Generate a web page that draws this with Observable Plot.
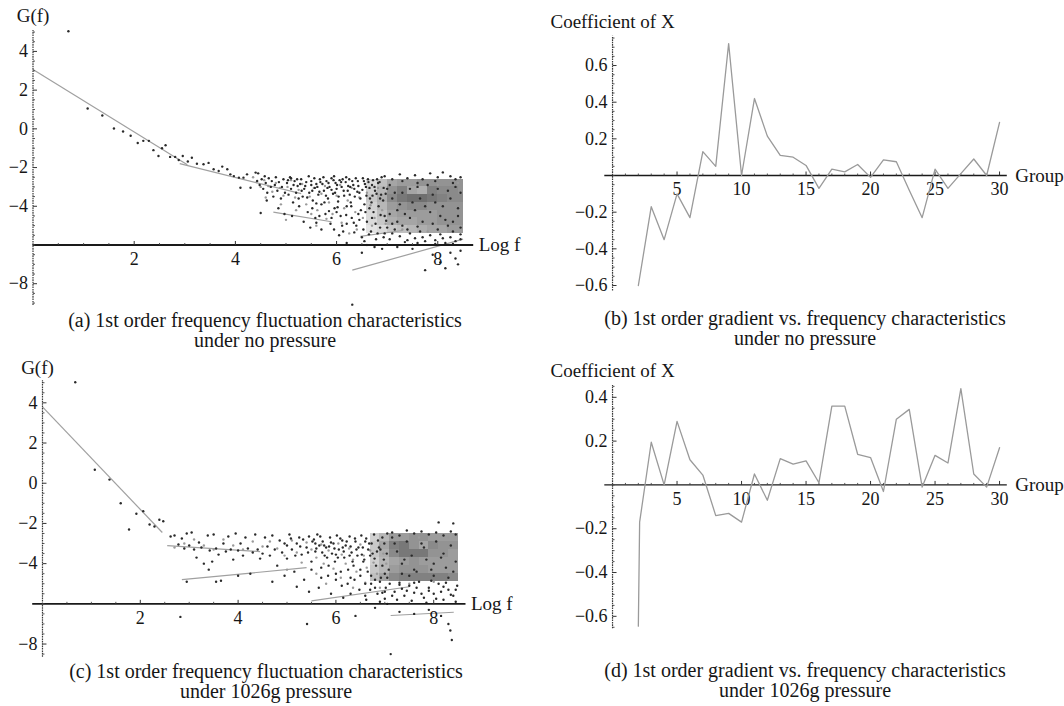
<!DOCTYPE html>
<html><head><meta charset="utf-8">
<script src="https://cdn.jsdelivr.net/npm/d3@7"></script>
<script src="https://cdn.jsdelivr.net/npm/@observablehq/plot@0.6"></script>
<style>
body{margin:0;background:#fff;}
#wrap{position:relative;width:1064px;height:706px;background:#fff;font-family:"Liberation Serif","Times New Roman",serif;color:#1a1a1a;overflow:hidden}
.panel{position:absolute}
.cap{position:absolute;text-align:center;font-size:20px;line-height:20px;white-space:nowrap;transform:translateX(-50%);color:#161616}
</style></head><body><div id="wrap"></div>
<script>
// ---------- Panel (a): 1st order frequency fluctuation, no pressure ----------
const aPoints = [
 [0.7,5.04],[1.08,1.05],[1.37,0.69],[1.6,0.02],[1.78,-0.14],[1.93,-0.36],[2.07,-0.73],[2.18,-0.62],[2.29,-0.62],
 [2.38,-1.1],[2.48,-1.4],[2.55,-1.0],[2.62,-0.85],[2.71,-1.45],[2.81,-1.45],[2.88,-1.61],[2.96,-1.4],[3.06,-1.69],
 [3.14,-1.49],[3.24,-1.8],[3.37,-1.83],[3.47,-1.76],[3.57,-2.09],[3.67,-2.18],[3.74,-1.95],[3.84,-2.09],[3.9,-2.35],
 [3.97,-2.44],[4.07,-2.52],[4.16,-2.52],[4.1,-3.04],[4.23,-2.35],[4.3,-3.04],[4.4,-2.26],[4.43,-2.69],
 [4.45,-2.3],[4.48,-2.9],[4.52,-2.6],[4.55,-3.1],[4.58,-2.45],[4.6,-2.8],[4.63,-3.3],[4.66,-2.55],[4.7,-3.0],[4.72,-2.7],
 [4.75,-3.5],[4.78,-2.9],[4.8,-2.5],[4.83,-3.2],[4.86,-2.75],[4.9,-3.6],[4.92,-3.0],[4.95,-2.6],[4.98,-3.3],[4.5,-4.35],
 [4.62,-3.7],[4.85,-4.1],[4.97,-4.4],
 [5.02,-2.8],[5.05,-3.4],[5.08,-2.5],[5.1,-3.1],[5.14,-3.8],[5.17,-2.7],[5.2,-3.3],[5.23,-2.95],[5.26,-4.0],[5.3,-2.6],
 [5.33,-3.5],[5.36,-3.1],[5.4,-2.75],[5.43,-4.3],[5.46,-3.3],[5.5,-2.9],[5.53,-3.7],[5.56,-2.55],[5.58,-4.6],[5.12,-4.5],
 [5.35,-4.8],[5.48,-5.1],[5.25,-3.6],[5.45,-2.45],
 [5.62,-3.0],[5.64,-3.4],[5.67,-2.6],[5.7,-3.9],[5.72,-2.85],[5.75,-3.2],[5.78,-4.4],[5.8,-2.7],[5.83,-3.6],[5.86,-3.0],
 [5.88,-4.9],[5.9,-2.55],[5.93,-3.35],[5.96,-4.1],[5.98,-2.8],[6.0,-3.1],[6.03,-3.75],[6.06,-2.65],[6.08,-4.5],[6.1,-3.0],
 [6.13,-5.3],[6.15,-3.45],[6.18,-2.75],[6.2,-4.0],[5.7,-5.2],[6.05,-5.5],[5.95,-2.45],
 [6.22,-3.2],[6.25,-2.6],[6.28,-3.8],[6.3,-4.6],[6.33,-2.9],[6.36,-3.5],[6.39,-5.0],[6.42,-2.7],[6.45,-3.3],[6.48,-4.2],
 [6.5,-5.6],[6.52,-2.55],[6.55,-3.9],[6.58,-3.0],[6.6,-4.8],[6.63,-2.75],[6.66,-3.6],[6.68,-5.3],[6.7,-2.9],[6.73,-4.3],
 [6.76,-3.2],[6.78,-5.7],[6.8,-2.6],[6.83,-4.0],[6.86,-5.1],[6.88,-3.4],[6.5,-6.4],[6.9,-6.2],
 [5.04,-2.65],[5.15,-2.9],[5.22,-2.6],[5.31,-3.2],[5.38,-2.95],[5.42,-3.55],[5.5,-2.7],[5.57,-3.05],[5.6,-2.85],[5.66,-3.25],
 [5.74,-2.5],[5.79,-3.45],[5.84,-2.8],[5.9,-3.15],[5.94,-2.65],[6.01,-2.9],[6.04,-3.5],[6.09,-2.75],[6.14,-3.2],[6.19,-2.5],
 [6.23,-2.95],[6.26,-3.4],[6.31,-2.7],[6.35,-3.1],[6.38,-2.55],[6.43,-2.95],[6.47,-3.6],[6.51,-3.15],[6.54,-2.7],[6.59,-3.45],
 [6.62,-2.6],[6.65,-3.05],[6.69,-3.8],[6.72,-2.65],[6.75,-3.0],[6.79,-3.35],[6.82,-2.8],[6.86,-3.6],[6.89,-2.5],[6.93,-3.05],
 [6.97,-3.35],
 [5.52,-4.1],[5.66,-4.5],[5.76,-3.8],[5.9,-4.6],[6.02,-4.05],[6.11,-5.0],[6.19,-4.45],[6.29,-4.0],[6.34,-4.85],[6.43,-4.4],
 [6.53,-5.2],[6.57,-4.3],[6.64,-5.45],[6.7,-4.6],[6.77,-4.9],[6.81,-5.4],[6.87,-4.45],[6.93,-5.6],[6.98,-4.75],[6.55,-5.8],
 [6.75,-6.1],[6.2,-5.9],[5.95,-5.2],[5.6,-4.85],
 [6.95,-2.45],[7.1,-2.6],[7.25,-2.35],[7.4,-2.55],[7.55,-2.4],[7.7,-2.6],[7.85,-2.3],[8.0,-2.5],[8.1,-2.25],[8.25,-2.45],
 [8.35,-2.6],[8.45,-2.5],[7.3,-2.7],[7.95,-2.7],
 [6.95,-5.4],[7.05,-5.7],[7.15,-5.2],[7.25,-5.55],[7.35,-5.85],[7.45,-5.4],[7.55,-5.65],[7.65,-5.3],[7.75,-5.8],[7.85,-5.5],
 [7.95,-5.75],[8.05,-5.45],[8.15,-5.9],[8.25,-5.6],[8.35,-5.8],[8.45,-5.7],[7.1,-4.9],[7.3,-5.0],[7.6,-5.05],[8.0,-5.2],[8.3,-5.3],
 [7.0,-3.1],[7.1,-3.6],[7.2,-4.2],[7.3,-3.3],[7.45,-4.6],[7.6,-3.0],[7.75,-4.0],[7.9,-3.4],[8.05,-4.5],[8.2,-3.2],[8.4,-4.1],
 [7.05,-4.4],[7.5,-3.8],[8.3,-4.8],
 [7.05,-2.9],[7.15,-3.3],[7.25,-3.9],[7.35,-4.4],[7.45,-3.1],[7.55,-4.2],[7.65,-3.6],[7.7,-4.8],[7.8,-2.9],[7.85,-4.3],
 [7.95,-3.8],[8.0,-3.1],[8.1,-4.0],[8.15,-4.7],[8.25,-3.6],[8.35,-3.0],[8.4,-4.5],[8.45,-3.3],[7.2,-4.8],[7.4,-5.2],
 [7.9,-4.9],[8.2,-5.0],[8.45,-5.1],[7.6,-2.8],[8.3,-2.8],
 [5.1,-2.55],[5.28,-2.85],[5.52,-3.2],[5.68,-2.75],[5.82,-3.05],[5.97,-3.3],[6.12,-2.6],[6.27,-3.0],[6.41,-3.25],[6.56,-2.85],
 [6.71,-3.45],[6.85,-2.75],[6.92,-3.7],[6.95,-4.5],[7.0,-5.1],[6.65,-4.1],[6.45,-4.7],[6.35,-5.35],[6.2,-4.9],[6.0,-4.3],
 [5.85,-4.25],[5.6,-3.85],[7.1,-5.4],[7.4,-5.75],[7.7,-5.6],[8.1,-5.65],[8.45,-5.45],[8.3,-5.95],[7.95,-5.95],[7.6,-5.9],
 [7.2,-6.1],[7.5,-6.2],[7.9,-6.5],[8.05,-6.9],[8.15,-7.2],[8.25,-6.4],[8.35,-6.7],[8.45,-6.3],[7.75,-7.3],[8.4,-7.0],
 [6.31,-9.08]
];
const aLightPoints = [
 [4.35,-2.5],[4.42,-2.75],[4.5,-3.0],[4.57,-2.65],[4.65,-2.95],[4.73,-3.25],[4.8,-2.8],[4.88,-3.05],[4.95,-3.45],[5.03,-3.0],
 [5.1,-2.65],[5.18,-3.55],[5.25,-3.15],[5.32,-2.85],[5.4,-3.9],[5.47,-3.5],[5.55,-3.05],[5.62,-4.2],[5.7,-3.35],[5.77,-2.95],
 [5.85,-3.8],[5.92,-4.4],[6.0,-3.45],[6.07,-2.9],[6.15,-4.1],[6.22,-3.7],[6.3,-3.05],[6.37,-4.3],[6.45,-3.55],[6.52,-4.6],
 [6.6,-3.3],[6.67,-3.95],[6.75,-4.6],[6.82,-3.05],[6.9,-4.2],[6.97,-4.9],[4.6,-3.55],[4.9,-3.9],[5.2,-4.2],[5.5,-4.4],
 [5.8,-4.65],[6.1,-4.85],[6.4,-5.2],[6.7,-5.0],[5.0,-4.7],[5.6,-5.0],[6.25,-5.4],[6.6,-6.0],[7.3,-5.2],[7.8,-5.3],
 [8.2,-5.1],[7.5,-2.9],[8.0,-2.9],[8.4,-2.8]
];
const aFitLines = [[0,3.07,3.05,-1.85],[2.9,-1.8,5.3,-3.35],[4.75,-4.3,5.9,-4.8],[6.47,-5.55,7.3,-5.25],[6.31,-7.3,8.5,-5.7]];
const aDensityX = [6.6,6.8,7.0,7.2,7.4,7.6,7.8,8.0,8.2,8.4,8.5];
const aDensityY = [-2.6,-3.0,-3.4,-3.8,-4.2,-4.6,-5.0,-5.4];
const aDensity = [
 [0.1,0.25,0.4,0.45,0.45,0.5,0.5,0.5,0.5,0.5],
 [0.15,0.3,0.5,0.6,0.4,0.35,0.6,0.55,0.55,0.5],
 [0.2,0.35,0.55,0.65,0.7,0.7,0.65,0.6,0.55,0.55],
 [0.15,0.3,0.45,0.5,0.55,0.55,0.5,0.5,0.5,0.5],
 [0.1,0.25,0.4,0.45,0.45,0.45,0.45,0.5,0.5,0.5],
 [0.1,0.2,0.35,0.4,0.4,0.45,0.45,0.5,0.5,0.5],
 [0.05,0.1,0.2,0.25,0.3,0.35,0.4,0.4,0.45,0.45]
];

// ---------- Panel (c): 1st order frequency fluctuation, 1026g ----------
const cPoints = [
 [0.67,5.02],[1.07,0.67],[1.37,0.18],[1.6,-1.0],[1.77,-2.3],[1.92,-1.52],[2.06,-1.39],[2.19,-2.05],[2.29,-2.15],[2.39,-1.82],[2.47,-1.89],
 [2.62,-2.65],[2.7,-2.6],[2.78,-3.05],[2.85,-2.75],[2.9,-3.25],[2.95,-2.5],[3.0,-3.1],[3.05,-2.45],[3.1,-3.3],[3.15,-3.7],
 [3.2,-2.95],[3.25,-3.2],[3.3,-4.0],[3.38,-2.6],[3.42,-3.35],[3.47,-3.9],[3.5,-2.55],[3.55,-3.25],[3.6,-3.55],[3.65,-4.85],
 [3.7,-3.0],[3.75,-3.4],[3.8,-2.65],[3.85,-3.3],[3.9,-3.8],[3.95,-2.5],[4.0,-3.35],[4.05,-3.0],[4.1,-3.6],[4.15,-2.7],
 [4.2,-3.25],[4.25,-4.5],[4.3,-3.45],[4.35,-2.55],[4.4,-3.3],[4.45,-3.75],[4.5,-3.5],[2.95,-4.9],[3.4,-4.3],[3.55,-4.9],
 [4.0,-4.6],[2.82,-6.65],
 [4.55,-2.7],[4.6,-3.15],[4.65,-3.6],[4.7,-2.6],[4.75,-3.3],[4.8,-4.1],[4.85,-2.85],[4.9,-3.45],[4.95,-3.0],[5.0,-3.75],
 [5.05,-2.55],[5.1,-3.3],[5.15,-4.4],[5.2,-3.0],[5.25,-2.7],[5.3,-3.55],[5.35,-4.8],[5.4,-3.2],[5.45,-2.65],[5.5,-3.9],
 [4.7,-4.9],[4.95,-4.6],[5.2,-5.15],[5.45,-5.4],[5.41,-7.0],
 [5.55,-2.8],[5.58,-3.4],[5.62,-2.55],[5.66,-3.1],[5.7,-4.2],[5.73,-2.9],[5.77,-3.6],[5.8,-3.2],[5.84,-4.6],[5.88,-2.7],
 [5.92,-3.5],[5.95,-3.0],[5.98,-3.9],[6.02,-2.6],[6.06,-3.3],[6.1,-4.4],[6.13,-2.85],[6.17,-3.7],[6.2,-3.1],[6.24,-5.0],
 [6.28,-2.65],[6.32,-3.45],[6.36,-4.1],[6.4,-2.9],[6.44,-3.6],[6.48,-5.3],[5.65,-5.2],[5.9,-5.5],[6.15,-5.7],[6.4,-6.6],
 [6.0,-4.8],[6.3,-4.7],
 [5.0,-3.1],[5.08,-2.75],[5.17,-3.6],[5.27,-3.15],[5.33,-2.8],[5.43,-3.45],[5.52,-2.9],[5.6,-3.25],[5.68,-2.65],[5.76,-3.1],
 [5.82,-3.7],[5.9,-2.95],[5.97,-3.25],[6.04,-3.7],[6.09,-2.75],[6.16,-3.4],[6.22,-2.9],[6.3,-3.15],[6.34,-3.9],[6.39,-2.75],
 [6.46,-3.2],[6.53,-3.55],[6.6,-2.9],[6.66,-3.3],[6.73,-3.0],[6.79,-3.75],[6.86,-2.85],[6.91,-3.3],[6.99,-3.0],[7.04,-3.5],
 [5.5,-4.3],[5.7,-4.7],[5.85,-4.1],[6.0,-4.5],[6.12,-5.1],[6.25,-4.3],[6.38,-4.8],[6.5,-4.3],[6.6,-5.0],[6.72,-4.6],
 [6.8,-5.2],[6.9,-4.9],[7.0,-5.4],[6.62,-5.8],[6.3,-5.5],[6.8,-6.2],[7.05,-6.0],[7.0,-4.5],
 [6.52,-2.6],[6.55,-3.2],[6.58,-3.8],[6.62,-2.75],[6.65,-4.4],[6.68,-3.0],[6.72,-5.0],[6.75,-3.5],[6.78,-2.55],[6.82,-4.1],
 [6.85,-5.5],[6.88,-3.2],[6.92,-4.7],[6.95,-2.7],[6.98,-3.8],[7.02,-5.2],[7.05,-2.5],[7.08,-4.3],[6.6,-5.6],[6.9,-5.9],
 [7.15,-2.45],[7.3,-2.6],[7.45,-2.35],[7.6,-2.5],[7.75,-2.4],[7.9,-2.55],[8.05,-2.45],[8.2,-2.6],[8.35,-2.4],[8.45,-2.55],
 [8.1,-1.95],[8.4,-2.0],
 [7.1,-5.0],[7.2,-5.4],[7.3,-4.95],[7.4,-5.6],[7.5,-5.1],[7.6,-5.45],[7.7,-4.9],[7.8,-5.7],[7.9,-5.2],[8.0,-5.5],[8.1,-5.0],
 [8.2,-5.8],[8.3,-5.3],[8.4,-5.6],[8.48,-5.1],[7.25,-5.8],[7.55,-5.85],[7.85,-5.95],[8.15,-5.4],[8.45,-5.9],[7.35,-5.25],
 [7.65,-5.2],[7.95,-4.85],[8.25,-4.95],
 [7.2,-3.0],[7.4,-3.8],[7.6,-4.3],[7.8,-3.2],[8.0,-4.0],[8.2,-3.5],[8.4,-4.4],[7.35,-4.5],
 [7.15,-2.7],[7.25,-3.4],[7.35,-4.0],[7.45,-2.9],[7.55,-3.6],[7.65,-4.4],[7.75,-3.0],[7.85,-3.8],[7.95,-4.3],[8.05,-2.9],
 [8.15,-3.7],[8.25,-4.2],[8.35,-3.1],[8.45,-3.9],[7.5,-4.6],[8.0,-4.6],[8.3,-4.7],
 [5.58,-3.0],[5.72,-3.45],[5.86,-3.15],[6.0,-3.55],[6.14,-3.2],[6.28,-3.6],[6.42,-3.3],[6.56,-3.9],[6.7,-3.6],[6.84,-3.4],
 [6.95,-4.1],[7.05,-4.7],[6.8,-4.8],[6.5,-4.6],[6.95,-5.45],[6.7,-5.3],[7.15,-5.6],[7.45,-5.35],[7.75,-5.5],[8.05,-5.75],
 [8.35,-5.55],[8.45,-5.3],[7.0,-5.75],[7.3,-5.05],[7.6,-4.95],[7.9,-5.35],[8.2,-5.15],
 [7.3,-6.4],[7.6,-6.5],[7.9,-6.3],[8.15,-6.6],[8.3,-7.0],[8.34,-7.33],[8.37,-7.8],[7.12,-8.5]
];
const cLightPoints = [
 [2.7,-3.2],[2.9,-3.0],[3.1,-2.8],[3.3,-3.1],[3.5,-3.3],[3.7,-2.8],[3.9,-3.1],[4.1,-3.3],[4.3,-2.9],[4.5,-3.15],
 [4.65,-2.9],[4.8,-3.25],[4.95,-3.6],[5.1,-2.85],[5.2,-3.45],[5.3,-3.95],[5.4,-2.95],[5.5,-3.3],[5.6,-3.7],[5.7,-3.05],
 [5.75,-4.0],[5.85,-3.35],[5.95,-4.25],[6.05,-3.0],[6.12,-3.55],[6.2,-4.0],[6.27,-3.25],[6.35,-3.8],[6.42,-4.4],[6.5,-3.05],
 [6.57,-3.6],[6.63,-4.2],[6.7,-3.35],[6.77,-3.95],[6.84,-4.5],[6.9,-3.1],[6.97,-3.5],[7.03,-4.0],[5.0,-4.3],[5.6,-4.5],
 [6.1,-4.7],[6.6,-4.95],[6.9,-5.2],[5.8,-5.0],[6.35,-5.2],[7.5,-5.0],[8.0,-4.9],[8.3,-2.7],[7.7,-2.7]
];
const cFitLines = [[0,3.8,2.45,-2.45],[2.55,-3.1,4.45,-3.4],[2.85,-4.8,5.4,-4.2],[5.5,-5.85,7.5,-5.15],[7.12,-6.58,8.41,-6.42]];
const cDensityX = [6.7,6.9,7.1,7.3,7.5,7.7,7.9,8.1,8.3,8.5];
const cDensityY = [-2.5,-2.9,-3.3,-3.7,-4.1,-4.5,-4.9];
const cDensity = [
 [0.15,0.3,0.45,0.45,0.5,0.5,0.45,0.45,0.45],
 [0.2,0.4,0.6,0.65,0.5,0.4,0.55,0.5,0.5],
 [0.2,0.35,0.55,0.65,0.65,0.65,0.5,0.5,0.45],
 [0.15,0.3,0.4,0.45,0.5,0.45,0.45,0.45,0.45],
 [0.2,0.3,0.45,0.5,0.5,0.5,0.45,0.45,0.45],
 [0.25,0.4,0.55,0.6,0.6,0.6,0.6,0.6,0.55]
];

// ---------- Panels (b) and (d): coefficient of X vs group ----------
const bGroups = [2,3,4,5,6,7,8,9,10,11,12,13,14,15,16,17,18,19,20,21,22,23,24,25,26,27,28,29,30];
const bCoef =   [-0.6,-0.17,-0.35,-0.10,-0.23,0.13,0.05,0.72,0.0,0.42,0.215,0.11,0.10,0.055,-0.07,0.035,0.02,0.06,-0.01,0.085,0.075,-0.08,-0.23,0.035,-0.07,0.01,0.09,0.0,0.29];
const dGroups = [2,2.1,3,4,5,6,7,8,9,10,11,12,13,14,15,16,17,18,19,20,21,22,23,24,25,26,27,28,29,30];
const dCoef =   [-0.645,-0.17,0.195,0.0,0.29,0.115,0.045,-0.14,-0.13,-0.17,0.05,-0.07,0.12,0.095,0.11,0.01,0.36,0.36,0.14,0.125,-0.03,0.30,0.345,-0.01,0.135,0.10,0.44,0.05,-0.01,0.17];

// tick labels
const gfXTicks = [2,4,6,8];
const gfYTicks = [-8,-4,-2,0,2,4];
const grpXTicks = [5,10,15,20,25,30];
const bYTicks = [-0.6,-0.4,-0.2,0.2,0.4,0.6];
const dYTicks = [-0.6,-0.4,-0.2,0.2,0.4];

const captions = [
 ["(a) 1st order frequency fluctuation characteristics","under no pressure"],
 ["(b) 1st order gradient vs. frequency characteristics","under no pressure"],
 ["(c) 1st order frequency fluctuation characteristics","under 1026g pressure"],
 ["(d) 1st order gradient vs. frequency characteristics","under 1026g pressure"]
];

// ---------- helpers ----------
const FONT = "'Liberation Serif','Times New Roman',serif";
const fmt = d => String(d).replace("-", "\u2212");
const shade = d3.interpolateRgb("#ececec", "#3a3a3a");

function axisMarks(o){
  const inY = v => v >= o.yMin && v <= o.yMax;
  const xMinor = o.xMinor.filter(v => !o.xLabels.includes(v));
  const yMinor = o.yMinor.filter(v => inY(v) && !o.yLabels.some(t => Math.abs(t - v) < 1e-9));
  return [
    Plot.ruleY([o.axisY], {x1: o.xMin, x2: o.xMax, stroke: "#1a1a1a", strokeWidth: o.xw}),
    Plot.ruleX([0], {y1: o.yMin, y2: o.yMax, stroke: "#3a3a3a", strokeWidth: 1.2, strokeDasharray: "1.6,0.8"}),
    Plot.link(xMinor, {x1: d => d, x2: d => d, y1: () => o.axisY, y2: () => o.axisY + 2 * o.ky, stroke: "#444", strokeWidth: 0.9}),
    Plot.link(o.xLabels, {x1: d => d, x2: d => d, y1: () => o.axisY, y2: () => o.axisY + 4 * o.ky, stroke: "#333", strokeWidth: 1}),
    Plot.link(yMinor, {x1: () => 0, x2: () => 2 * o.kx, y1: d => d, y2: d => d, stroke: "#444", strokeWidth: 0.9}),
    Plot.link(o.yLabels, {x1: () => 0, x2: () => 4 * o.kx, y1: d => d, y2: d => d, stroke: "#333", strokeWidth: 1}),
    Plot.text(o.xLabels, {x: d => d, y: () => o.axisY, text: fmt, dy: 14, fontSize: o.fs}),
    Plot.text(o.yLabels, {x: () => 0, y: d => d, text: fmt, dx: -5, textAnchor: "end", fontSize: o.fs}),
    Plot.text([o.yTitle], {x: () => 0, y: () => o.yMax, text: d => d, dy: o.yTitleDy, dx: o.yTitleDx || 0, fontSize: o.titleFs}),
    Plot.text([o.xTitle], {x: () => o.xMax, y: () => o.axisY, text: d => d, dx: o.xTitleDx, textAnchor: "start", fontSize: o.titleFs})
  ];
}

function cellsFrom(xs, ys, m){
  const out = [];
  m.forEach((row, j) => row.forEach((s, i) => out.push({x1: xs[i], x2: xs[i+1], y1: ys[j], y2: ys[j+1], s})));
  return out;
}

function units(cfg){
  const kx = (cfg.xDom[1] - cfg.xDom[0]) / (cfg.width - cfg.ml - cfg.mr);
  const ky = (cfg.yDom[1] - cfg.yDom[0]) / (cfg.height - cfg.mt - cfg.mb);
  return {kx, ky};
}

function scatterPanel(cfg){
  const cells = cellsFrom(cfg.dx, cfg.dy, cfg.dm);
  const {kx, ky} = units(cfg);
  return Plot.plot({
    width: cfg.width, height: cfg.height,
    marginLeft: cfg.ml, marginRight: cfg.mr, marginTop: cfg.mt, marginBottom: cfg.mb,
    x: {domain: cfg.xDom, axis: null},
    y: {domain: cfg.yDom, axis: null},
    style: {fontFamily: FONT, fontSize: "18px", color: "#161616", background: "transparent", overflow: "visible"},
    marks: [
      Plot.rect(cells, {x1: "x1", x2: "x2", y1: "y1", y2: "y2", fill: d => shade(d.s), shapeRendering: "crispEdges"}),
      Plot.link(cfg.lines, {x1: d => d[0], y1: d => d[1], x2: d => d[2], y2: d => d[3], stroke: "#a0a0a0", strokeWidth: 1.2}),
      Plot.dot(cfg.light, {x: d => d[0], y: d => d[1], r: 1.2, fill: "#9a9a9a"}),
      Plot.dot(cfg.points, {x: d => d[0], y: d => d[1], r: 1.2, fill: "#2a2a2a"}),
      ...axisMarks({
        axisY: -6, xMin: cfg.xDom[0], xMax: cfg.xDom[1], yMin: cfg.yDom[0], yMax: cfg.yDom[1], xw: 1.8, kx, ky,
        xMinor: d3.range(1, 17).map(v => v / 2), yMinor: d3.range(-18, 11).map(v => v / 2),
        xLabels: gfXTicks, yLabels: gfYTicks, fs: 18, titleFs: 19,
        yTitle: "G(f)", yTitleDy: cfg.titleDy, yTitleDx: cfg.titleDx, xTitle: "Log f", xTitleDx: 5
      })
    ]
  });
}

function coefPanel(cfg){
  const {kx, ky} = units(cfg);
  return Plot.plot({
    width: cfg.width, height: cfg.height,
    marginLeft: cfg.ml, marginRight: cfg.mr, marginTop: cfg.mt, marginBottom: cfg.mb,
    x: {domain: cfg.xDom, axis: null},
    y: {domain: cfg.yDom, axis: null},
    style: {fontFamily: FONT, fontSize: "18px", color: "#161616", background: "transparent", overflow: "visible"},
    marks: [
      ...axisMarks({
        axisY: 0, xMin: cfg.xDom[0], xMax: cfg.xDom[1], yMin: cfg.yDom[0], yMax: cfg.yDom[1], xw: 1.4, kx, ky,
        xMinor: d3.range(1, 31), yMinor: d3.range(-13, 16).map(v => v / 20),
        xLabels: grpXTicks, yLabels: cfg.yTicks, fs: 18, titleFs: 19,
        yTitle: "Coefficient of X", yTitleDy: cfg.titleDy, xTitle: "Group", xTitleDx: 8
      }),
      Plot.line(cfg.groups.map((g, i) => [g, cfg.coef[i]]), {x: d => d[0], y: d => d[1], stroke: "#9a9a9a", strokeWidth: 1.3})
    ]
  });
}

const wrap = document.getElementById("wrap");
function place(svg, left, top){
  const div = document.createElement("div");
  div.className = "panel"; div.style.left = left + "px"; div.style.top = top + "px";
  div.appendChild(svg); wrap.appendChild(div);
}

place(scatterPanel({width: 520, height: 315, ml: 32.5, mr: 46.8, mt: 30, mb: 10.1,
  xDom: [0, 8.71], yDom: [-9.12, 5.08], points: aPoints, light: aLightPoints, lines: aFitLines,
  dx: aDensityX, dy: aDensityY, dm: aDensity, titleDy: -15, titleDx: 0}), 0, 0);
place(scatterPanel({width: 520, height: 315, ml: 32.2, mr: 54.5, mt: 30, mb: 8.2,
  xDom: [-0.2, 8.66], yDom: [-8.66, 5.11], points: cPoints, light: cLightPoints, lines: cFitLines,
  dx: cDensityX, dy: cDensityY, dm: cDensity, titleDy: -13, titleDx: -5}), 0, 350);
place(coefPanel({width: 544, height: 300, ml: 84.3, mr: 57.2, mt: 35.7, mb: 9.5,
  xDom: [-0.6, 30.6], yDom: [-0.63, 0.76], groups: bGroups, coef: bCoef, yTicks: bYTicks, titleDy: -14}), 520, 0);
place(coefPanel({width: 544, height: 300, ml: 84.3, mr: 57.2, mt: 35, mb: 21.7,
  xDom: [-0.6, 30.6], yDom: [-0.657, 0.454], groups: dGroups, coef: dCoef, yTicks: dYTicks, titleDy: -15}), 520, 350);

const capPos = [[265, 310], [805, 308], [266, 661], [805, 660]];
captions.forEach((c, i) => {
  const div = document.createElement("div");
  div.className = "cap";
  div.style.left = capPos[i][0] + "px"; div.style.top = capPos[i][1] + "px";
  div.innerHTML = c[0] + "<br>" + c[1];
  wrap.appendChild(div);
});
</script></body></html>
